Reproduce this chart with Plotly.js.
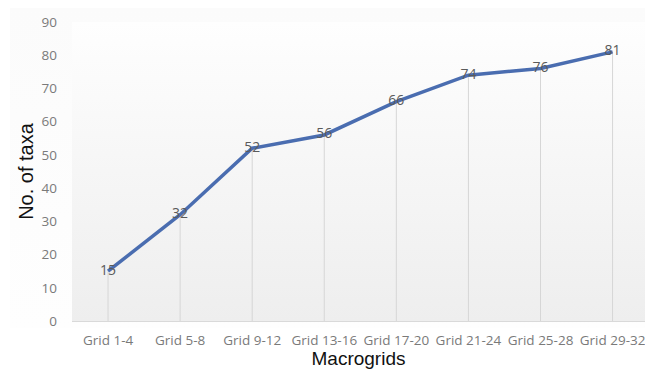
<!DOCTYPE html>
<html>
<head>
<meta charset="utf-8">
<script src="https://cdn.plot.ly/plotly-3.0.1.min.js"></script>
<style>
  html, body { margin: 0; padding: 0; background: #fff; }
  #chart {
    width: 645px; height: 369px;
    background:
      linear-gradient(#fefefe, #eeeeee) no-repeat 72px 22px / 573px 299px,
      linear-gradient(#fbfbfb, #fefefe) no-repeat 10px 8px / 635px 320px,
      #ffffff;
  }
</style>
</head>
<body>
<div id="chart"></div>
<script>
// Cumulative number of taxa recorded across macrogrids
const categories = ["Grid 1-4", "Grid 5-8", "Grid 9-12", "Grid 13-16",
                    "Grid 17-20", "Grid 21-24", "Grid 25-28", "Grid 29-32"];
const taxa = [15, 32, 52, 56, 66, 74, 76, 81];
const yTicks = [0, 10, 20, 30, 40, 50, 60, 70, 80, 90];

// Thin drop lines from each point down to the axis
const dropLines = {
  x: categories,
  y: taxa,
  type: "scatter",
  mode: "markers",
  marker: { size: 1, opacity: 0 },
  error_y: {
    type: "data",
    symmetric: false,
    array: taxa.map(() => 0),
    arrayminus: taxa,
    color: "#d6d6d6",
    thickness: 1,
    width: 0
  },
  hoverinfo: "skip",
  showlegend: false
};

const line = {
  x: categories,
  y: taxa,
  type: "scatter",
  mode: "lines+text",
  text: taxa.map(String),
  textposition: "middle center",
  textfont: { family: "Open Sans, sans-serif", size: 14, color: "#5a5a5a" },
  line: { color: "#4a6db0", width: 3.5 },
  cliponaxis: false,
  showlegend: false
};

const layout = {
  width: 645,
  height: 369,
  margin: { l: 72, r: 0, t: 22, b: 48 },
  paper_bgcolor: "rgba(0,0,0,0)",
  plot_bgcolor: "rgba(0,0,0,0)",
  xaxis: {
    type: "category",
    range: [-0.5, 7.45],
    showgrid: false,
    zeroline: false,
    showline: true,
    linecolor: "#d9d9d9",
    linewidth: 1,
    ticks: "",
    ticklabelstandoff: 7,
    tickfont: { family: "Open Sans, sans-serif", size: 13.5, color: "#7a7a7a" },
    title: {
      text: "Macrogrids",
      font: { family: "Liberation Sans, Arial, sans-serif", size: 19, color: "#111" },
      standoff: 4
    }
  },
  yaxis: {
    range: [0, 90],
    tickvals: yTicks,
    showgrid: false,
    zeroline: false,
    showline: false,
    ticks: "",
    ticklabelstandoff: 14,
    tickfont: { family: "Open Sans, sans-serif", size: 13.5, color: "#7a7a7a" },
    title: {
      text: "No. of taxa",
      font: { family: "Liberation Sans, Arial, sans-serif", size: 20, color: "#111" },
      standoff: 2
    }
  },
  showlegend: false
};

Plotly.newPlot("chart", [dropLines, line], layout, { staticPlot: true, displayModeBar: false });
</script>
</body>
</html>
